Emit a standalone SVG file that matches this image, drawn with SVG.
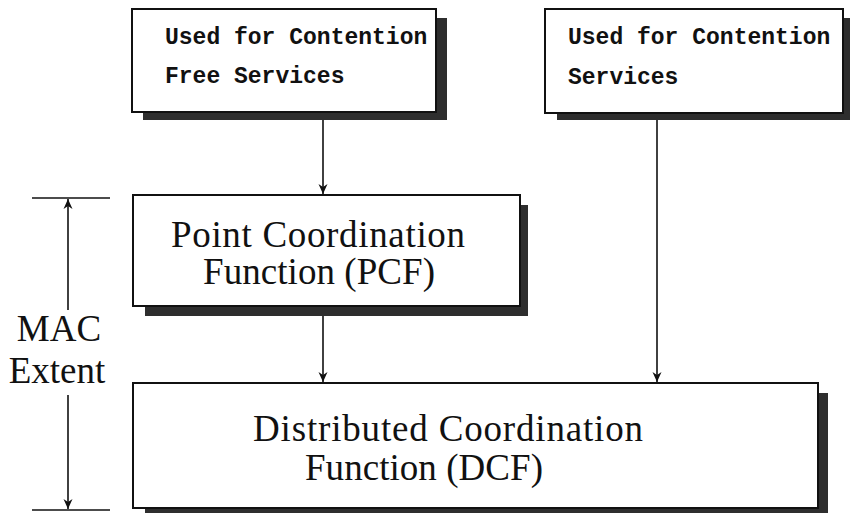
<svg xmlns="http://www.w3.org/2000/svg" width="850" height="513" viewBox="0 0 850 513">
<defs>
<style>
.box{fill:#fff;stroke:#111;stroke-width:2}
.sh{fill:#2e2e2e}
.mono{font-family:"Liberation Mono",monospace;font-weight:bold;font-size:23px;fill:#111}
.serif{font-family:"Liberation Serif",serif;font-size:37px;fill:#111}
.ln{stroke:#111;stroke-width:1.6;fill:none}
</style>
<marker id="ah" viewBox="0 0 10 12" refX="10" refY="6" markerWidth="10" markerHeight="12" markerUnits="userSpaceOnUse" orient="auto">
<path d="M0,1.5 L10,6 L0,10.5 L3,6 Z" fill="#111"/>
</marker>
</defs>
<rect width="850" height="513" fill="#fff"/>
<g id="node-cfs">
<rect class="sh" x="143" y="18" width="304" height="102"/>
<rect class="box" x="132" y="9" width="304" height="103"/>
<text class="mono" x="165" y="44">Used for Contention</text>
<text class="mono" x="165" y="83">Free Services</text>
</g>
<g id="node-cs">
<rect class="sh" x="557" y="18" width="293" height="102"/>
<rect class="box" x="545" y="9" width="298" height="104"/>
<text class="mono" x="568" y="44">Used for Contention</text>
<text class="mono" x="568" y="84">Services</text>
</g>
<g id="node-pcf">
<rect class="sh" x="145" y="205" width="383" height="111"/>
<rect class="box" x="133" y="195" width="387" height="111"/>
<text class="serif" x="318" y="247" text-anchor="middle" textLength="294">Point Coordination</text>
<text class="serif" x="319" y="284" text-anchor="middle" textLength="232">Function (PCF)</text>
</g>
<g id="node-dcf">
<rect class="sh" x="145" y="393" width="683" height="120"/>
<rect class="box" x="133" y="383" width="685" height="125"/>
<text class="serif" x="448" y="441" text-anchor="middle" textLength="390">Distributed Coordination</text>
<text class="serif" x="424" y="480" text-anchor="middle" textLength="238">Function (DCF)</text>
</g>
<g id="mac-extent">
<line class="ln" x1="32" y1="198" x2="110" y2="198"/>
<line class="ln" x1="32" y1="510" x2="110" y2="510"/>
<text class="serif" x="59" y="341" text-anchor="middle">MAC</text>
<text class="serif" x="57" y="383" text-anchor="middle">Extent</text>
</g>
<g id="connectors">
<line class="ln" x1="68" y1="310" x2="68" y2="199" marker-end="url(#ah)"/>
<line class="ln" x1="68" y1="395" x2="68" y2="509" marker-end="url(#ah)"/>
<line class="ln" x1="323" y1="120" x2="323" y2="194" marker-end="url(#ah)"/>
<line class="ln" x1="323" y1="316" x2="323" y2="382" marker-end="url(#ah)"/>
<line class="ln" x1="657" y1="120" x2="657" y2="382" marker-end="url(#ah)"/>
</g>
</svg>
